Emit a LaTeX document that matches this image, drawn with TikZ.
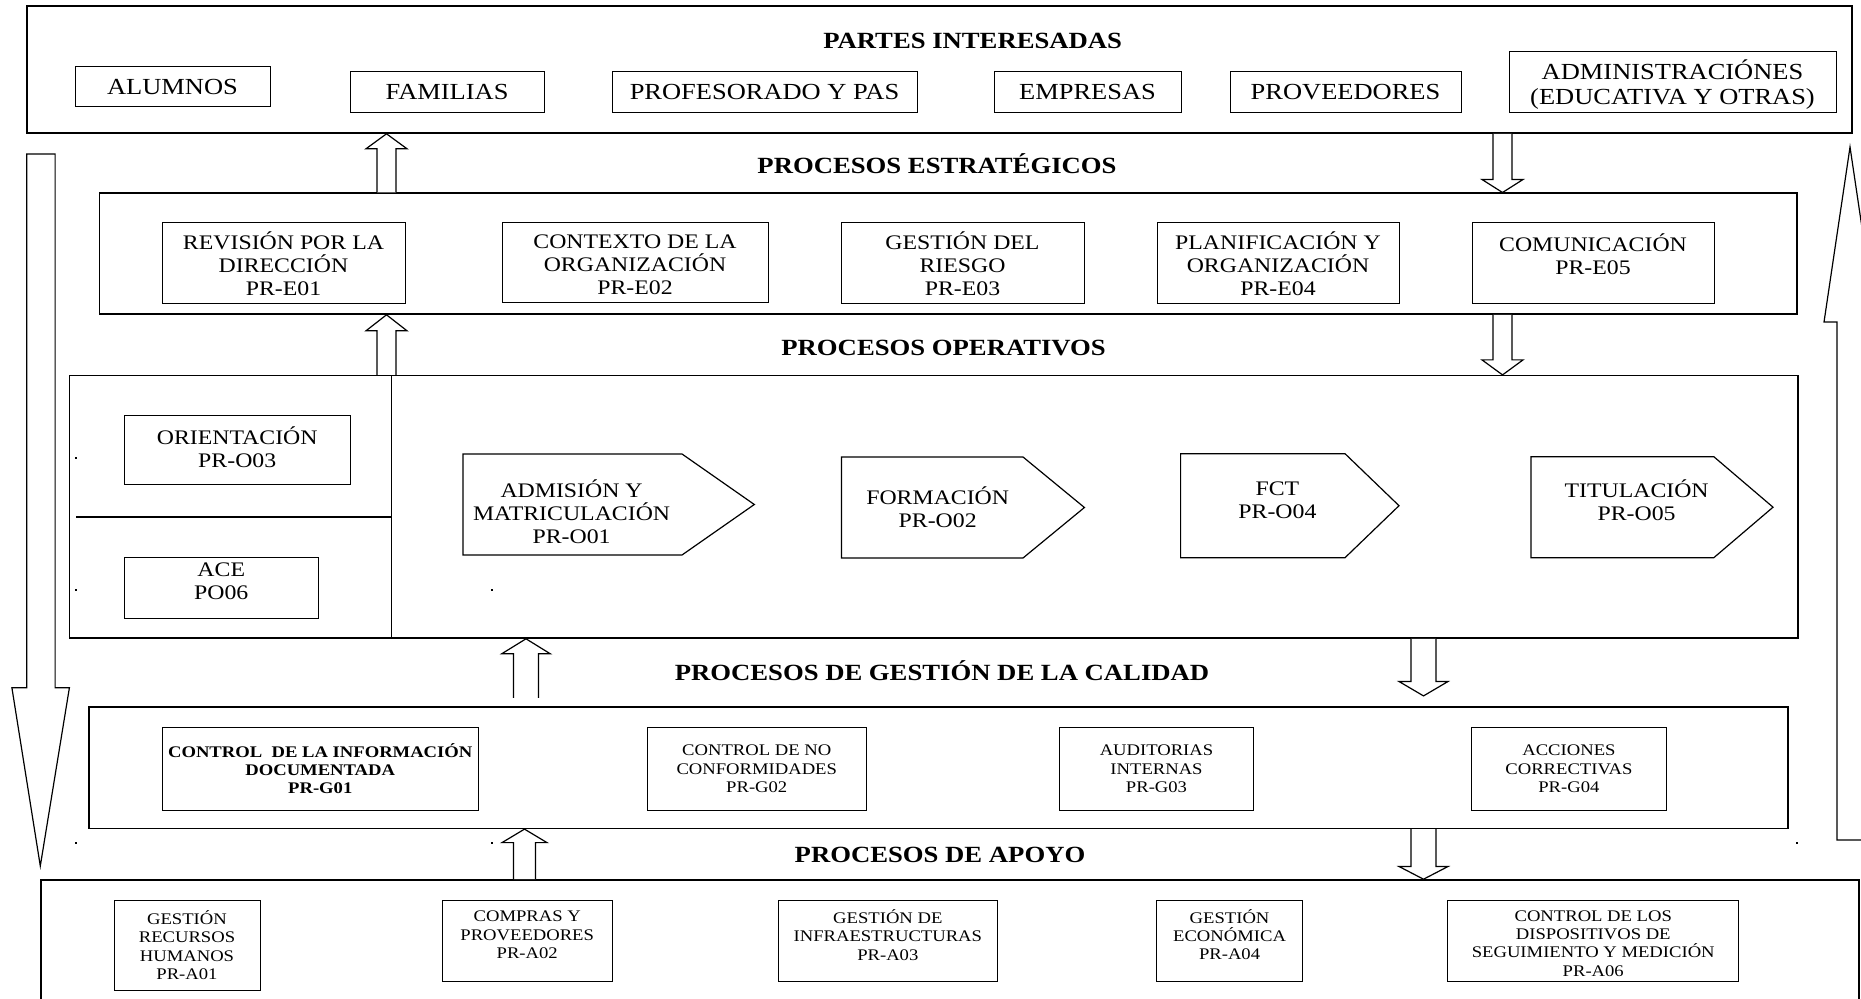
\documentclass[tikz,border=0pt]{standalone}
\usepackage{fontspec}
\setmainfont{Liberation Serif}[FakeStretch=1.15]
\usetikzlibrary{calc}

\tikzset{
  outer/.style={draw, line width=0.8pt, inner sep=0pt},
  inbox/.style={draw, line width=0.5pt, inner sep=0pt},
  txt/.style={align=center, inner sep=0pt},
  blk/.style={draw, fill=white, line width=0.6pt, line join=miter},
  pent/.style={draw, line width=0.6pt, line join=miter},
  ftop/.style={font=\fontsize{11.5}{12.3}\selectfont},
  fmid/.style={font=\fontsize{10.35}{11.5}\selectfont},
  fsml/.style={font=\fontsize{8.1}{9.15}\selectfont},
  fsmlb/.style={font=\fontsize{8.1}{9.15}\selectfont\bfseries},
  ttl/.style={font=\fontsize{11.6}{13}\selectfont\bfseries, inner sep=0pt, anchor=base},
  dotmark/.style={fill=black, inner sep=0pt, minimum size=1pt},
}

% outer box: name, x1, y1, x2, y2 (px)
\newcommand\obx[5]{%
  \node[outer, minimum width={(#4-#2)*0.5pt}, minimum height={(#5-#3)*0.5pt}]
    (#1) at ({(#2+#4)/2},{(#3+#5)/2}) {};}
% inner box: style, name, x1, y1, x2, y2, dy, text
\newcommand\bx[8]{%
  \node[inbox, minimum width={(#5-#3)*0.5pt}, minimum height={(#6-#4)*0.5pt}]
    (#2) at ({(#3+#5)/2},{(#4+#6)/2}) {};
  \node[txt,#1] (#2-t) at ({(#3+#5)/2},{(#4+#6)/2+#7}) {#8};}
% hollow block arrow: x centre, tail, tip, shaft half, head half, head length
\newcommand\blk[6]{%
  \draw[blk] let \p1=(#2), \p2=(#3), \p3=(#1,0), \n1={sign(\y2-\y1)} in
    ({\x3-#4*0.5pt},\y1) -- ({\x3-#4*0.5pt},{\y2-\n1*#6*0.5pt})
    -- ({\x3-#5*0.5pt},{\y2-\n1*#6*0.5pt}) -- (\x3,\y2)
    -- ({\x3+#5*0.5pt},{\y2-\n1*#6*0.5pt}) -- ({\x3+#4*0.5pt},{\y2-\n1*#6*0.5pt})
    -- ({\x3+#4*0.5pt},\y1);}

\begin{document}
\begin{tikzpicture}[x=0.5pt,y=-0.5pt]
\fill[white] (0,0) rectangle (1861,999);
\useasboundingbox (0,0) rectangle (1861,999);

% ---- big side arrows
\draw[blk] (26.7,154) -- (26.7,687.7) -- (11.9,687.7) -- (40.3,866)
  -- (69.4,687.7) -- (55.1,687.7) -- (55.1,154) -- cycle;
\draw[blk] (1837,840) -- (1837,322) -- (1824,322) -- (1850,147)
  -- (1876,322) -- (1863,322) -- (1863,840) -- cycle;

% ---- outer boxes
\obx{top}{27}{6}{1852}{133}
\obx{strat}{99.6}{193.3}{1797}{314}
\obx{op}{69.4}{375.7}{1798}{638}
\obx{qual}{89}{706.7}{1788}{828.3}
\obx{apoyo}{41}{880}{1859}{1030}

% ---- titles
\node[ttl] (t-partes) at (972.7,48.3) {PARTES INTERESADAS};
\node[ttl] (t-estr) at (937,174) {PROCESOS ESTRATÉGICOS};
\node[ttl] (t-oper) at (943.6,356) {PROCESOS OPERATIVOS};
\node[ttl] (t-cal) at (942,680) {PROCESOS DE GESTIÓN DE LA CALIDAD};
\node[ttl] (t-apoyo) at (940,862) {PROCESOS DE APOYO};

% ---- partes interesadas
\bx{ftop}{alumnos}{75}{67}{270}{107}{0}{ALUMNOS}
\bx{ftop}{familias}{350}{72}{544}{113}{0}{FAMILIAS}
\bx{ftop}{profes}{612}{72}{917}{113}{0}{PROFESORADO Y PAS}
\bx{ftop}{empresas}{994}{72}{1181}{113}{0}{EMPRESAS}
\bx{ftop}{proveed}{1230}{72}{1461}{113}{0}{PROVEEDORES}
\bx{ftop}{admin}{1509}{52}{1836}{113}{2}{ADMINISTRACIÓNES\\(EDUCATIVA Y OTRAS)}

% ---- estrategicos
\bx{fmid}{e01}{162}{223}{405}{304}{0}{REVISIÓN POR LA\\DIRECCIÓN\\PR-E01}
\bx{fmid}{e02}{502}{223}{768}{303}{1.5}{CONTEXTO DE LA\\ORGANIZACIÓN\\PR-E02}
\bx{fmid}{e03}{841}{223}{1084}{304}{0}{GESTIÓN DEL\\RIESGO\\PR-E03}
\bx{fmid}{e04}{1157}{223}{1399}{304}{0}{PLANIFICACIÓN Y\\ORGANIZACIÓN\\PR-E04}
\bx{fmid}{e05}{1472}{223}{1714}{304}{-9.5}{COMUNICACIÓN\\PR-E05}

% ---- operativos
\draw[line width=0.6pt] (op.north -| 391.4,0) coordinate (divtop) -- (op.south -| 391.4,0) coordinate (divbot);
\draw[line width=0.6pt] (76,517) coordinate (hl) -- (391.4,517) coordinate (hr);
\bx{fmid}{o03}{124}{416}{350.5}{484}{-3}{ORIENTACIÓN\\PR-O03}
\bx{fmid}{o06}{124}{557.7}{318.5}{618}{-7}{ACE\\PO06}

\draw[pent] (463,454) -- (682,454) -- (754.3,504.5) -- (682,555) -- (463,555) -- cycle;
\node[txt,fmid] (o01) at (571.6,512) {ADMISIÓN Y\\MATRICULACIÓN\\PR-O01};
\draw[pent] (841.5,457) -- (1023,457) -- (1084.4,507.5) -- (1023,558) -- (841.5,558) -- cycle;
\node[txt,fmid] (o02) at (937.7,507) {FORMACIÓN\\PR-O02};
\draw[pent] (1180.6,453.7) -- (1345,453.7) -- (1399,505.7) -- (1345,557.7) -- (1180.6,557.7) -- cycle;
\node[txt,fmid] (o04) at (1277.4,500.7) {FCT\\PR-O04};
\draw[pent] (1531,456.7) -- (1713.8,456.7) -- (1773,507.2) -- (1713.8,557.7) -- (1531,557.7) -- cycle;
\node[txt,fmid] (o05) at (1636.6,500) {TITULACIÓN\\PR-O05};

% ---- calidad
\bx{fsmlb}{g01}{162.5}{727.3}{478}{810.3}{0}{CONTROL~ DE LA INFORMACIÓN\\DOCUMENTADA\\PR-G01}
\bx{fsml}{g02}{647.5}{727.3}{866}{810.3}{0}{CONTROL DE NO\\CONFORMIDADES\\PR-G02}
\bx{fsml}{g03}{1059.4}{727.3}{1253.6}{810.3}{0}{AUDITORIAS\\INTERNAS\\PR-G03}
\bx{fsml}{g04}{1471.5}{727.3}{1666.3}{810.3}{0}{ACCIONES\\CORRECTIVAS\\PR-G04}

% ---- apoyo
\bx{fsml}{a01}{114}{900}{260}{990}{0}{GESTIÓN\\RECURSOS\\HUMANOS\\PR-A01}
\bx{fsml}{a02}{442.4}{900}{612}{981.7}{-6}{COMPRAS Y\\PROVEEDORES\\PR-A02}
\bx{fsml}{a03}{778.6}{900}{997}{981.7}{-6}{GESTIÓN DE\\INFRAESTRUCTURAS\\PR-A03}
\bx{fsml}{a04}{1156.8}{900}{1302.3}{981}{-6}{GESTIÓN\\ECONÓMICA\\PR-A04}
\bx{fsml}{a06}{1447.8}{900}{1738.7}{981}{3}{CONTROL DE LOS\\DISPOSITIVOS DE\\SEGUIMIENTO Y MEDICIÓN\\PR-A06}

% ---- block arrows between the levels
\blk{386.5}{strat.north}{top.south}{9.5}{20.5}{15}
\blk{1502.5}{top.south}{strat.north}{9.5}{20.5}{13}
\blk{386.5}{op.north}{strat.south}{9.5}{20.5}{16}
\blk{1502.5}{strat.south}{op.north}{9.5}{20.5}{15}
\blk{526}{$(qual.north)+(0,-8)$}{op.south}{12.5}{24.3}{15}
\blk{1423.5}{op.south}{$(qual.north)+(0,-10)$}{12.5}{24.5}{14.4}
\blk{524.5}{apoyo.north}{qual.south}{11}{22.5}{13.5}
\blk{1423.5}{qual.south}{apoyo.north}{12.5}{24.5}{12.7}

% ---- stray dots
\node[dotmark] (d1) at (76,458) {};
\node[dotmark] (d2) at (76,590) {};
\node[dotmark] (d3) at (491.6,590) {};
\node[dotmark] (d4) at (76,843) {};
\node[dotmark] (d5) at (491.6,843) {};
\node[dotmark] (d6) at (1797,843) {};
\end{tikzpicture}
\end{document}
